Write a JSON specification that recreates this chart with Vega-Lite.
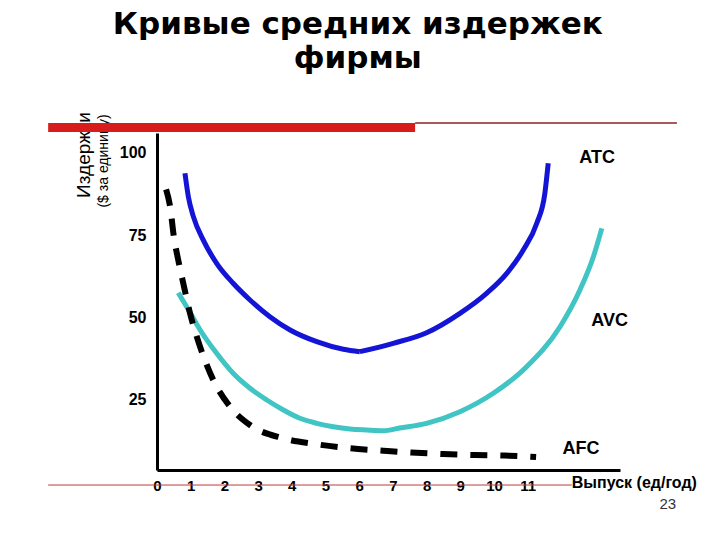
{
  "$schema": "https://vega.github.io/schema/vega-lite/v6.json",
  "width": 463,
  "height": 337,
  "autosize": {"type": "none"},
  "padding": {"left": 157, "top": 133, "right": 100, "bottom": 70},
  "background": "white",
  "config": {"view": {"stroke": null}},
  "datasets": {
    "curves": [
      {"curve": "ATC", "seg": "a", "x": 0.83, "y": 93.85},
      {"curve": "ATC", "seg": "a", "x": 0.93, "y": 86.75},
      {"curve": "ATC", "seg": "a", "x": 1.08, "y": 80.68},
      {"curve": "ATC", "seg": "a", "x": 1.37, "y": 73.6},
      {"curve": "ATC", "seg": "a", "x": 1.77, "y": 66.5},
      {"curve": "ATC", "seg": "a", "x": 2.26, "y": 60.43},
      {"curve": "ATC", "seg": "a", "x": 2.76, "y": 55.36},
      {"curve": "ATC", "seg": "a", "x": 3.35, "y": 50.29},
      {"curve": "ATC", "seg": "a", "x": 3.95, "y": 46.25},
      {"curve": "ATC", "seg": "a", "x": 4.74, "y": 42.7},
      {"curve": "ATC", "seg": "a", "x": 5.53, "y": 40.39},
      {"curve": "ATC", "seg": "a", "x": 6.02, "y": 39.66},
      {"curve": "ATC", "seg": "b", "x": 6.02, "y": 39.66},
      {"curve": "ATC", "seg": "b", "x": 7.01, "y": 42.21},
      {"curve": "ATC", "seg": "b", "x": 8.0, "y": 45.43},
      {"curve": "ATC", "seg": "b", "x": 8.99, "y": 51.32},
      {"curve": "ATC", "seg": "b", "x": 9.78, "y": 57.39},
      {"curve": "ATC", "seg": "b", "x": 10.38, "y": 63.47},
      {"curve": "ATC", "seg": "b", "x": 10.87, "y": 70.54},
      {"curve": "ATC", "seg": "b", "x": 11.27, "y": 78.65},
      {"curve": "ATC", "seg": "b", "x": 11.51, "y": 87.76},
      {"curve": "ATC", "seg": "b", "x": 11.61, "y": 96.87},
      {"curve": "AVC", "seg": "a", "x": 0.63, "y": 57.58},
      {"curve": "AVC", "seg": "a", "x": 0.88, "y": 53.33},
      {"curve": "AVC", "seg": "a", "x": 1.28, "y": 46.25},
      {"curve": "AVC", "seg": "a", "x": 1.77, "y": 39.17},
      {"curve": "AVC", "seg": "a", "x": 2.26, "y": 33.1},
      {"curve": "AVC", "seg": "a", "x": 2.76, "y": 28.55},
      {"curve": "AVC", "seg": "a", "x": 3.26, "y": 25.0},
      {"curve": "AVC", "seg": "a", "x": 3.75, "y": 21.96},
      {"curve": "AVC", "seg": "a", "x": 4.24, "y": 19.44},
      {"curve": "AVC", "seg": "a", "x": 4.74, "y": 17.92},
      {"curve": "AVC", "seg": "a", "x": 5.23, "y": 16.89},
      {"curve": "AVC", "seg": "a", "x": 5.73, "y": 16.19},
      {"curve": "AVC", "seg": "a", "x": 6.22, "y": 15.89},
      {"curve": "AVC", "seg": "a", "x": 6.72, "y": 15.68},
      {"curve": "AVC", "seg": "a", "x": 7.2, "y": 16.5},
      {"curve": "AVC", "seg": "a", "x": 8.0, "y": 17.92},
      {"curve": "AVC", "seg": "a", "x": 8.99, "y": 21.44},
      {"curve": "AVC", "seg": "a", "x": 9.98, "y": 27.03},
      {"curve": "AVC", "seg": "a", "x": 10.97, "y": 35.1},
      {"curve": "AVC", "seg": "a", "x": 11.96, "y": 47.25},
      {"curve": "AVC", "seg": "a", "x": 12.55, "y": 58.4},
      {"curve": "AVC", "seg": "a", "x": 12.95, "y": 68.51},
      {"curve": "AVC", "seg": "a", "x": 13.2, "y": 77.13},
      {"curve": "AFC", "seg": "a", "x": 0.27, "y": 88.98},
      {"curve": "AFC", "seg": "a", "x": 0.39, "y": 83.69},
      {"curve": "AFC", "seg": "a", "x": 0.5, "y": 74.58},
      {"curve": "AFC", "seg": "a", "x": 0.63, "y": 67.51},
      {"curve": "AFC", "seg": "a", "x": 0.78, "y": 60.43},
      {"curve": "AFC", "seg": "a", "x": 0.98, "y": 51.32},
      {"curve": "AFC", "seg": "a", "x": 1.18, "y": 44.21},
      {"curve": "AFC", "seg": "a", "x": 1.42, "y": 37.14},
      {"curve": "AFC", "seg": "a", "x": 1.67, "y": 31.06},
      {"curve": "AFC", "seg": "a", "x": 2.17, "y": 22.96},
      {"curve": "AFC", "seg": "a", "x": 2.76, "y": 17.4},
      {"curve": "AFC", "seg": "a", "x": 3.75, "y": 13.36},
      {"curve": "AFC", "seg": "a", "x": 4.74, "y": 11.54},
      {"curve": "AFC", "seg": "a", "x": 5.73, "y": 10.33},
      {"curve": "AFC", "seg": "a", "x": 6.72, "y": 9.6},
      {"curve": "AFC", "seg": "a", "x": 7.54, "y": 9.05},
      {"curve": "AFC", "seg": "a", "x": 8.49, "y": 8.59},
      {"curve": "AFC", "seg": "a", "x": 9.44, "y": 8.29},
      {"curve": "AFC", "seg": "a", "x": 10.3, "y": 8.14},
      {"curve": "AFC", "seg": "a", "x": 11.25, "y": 7.68}
    ],
    "deco": [
      {"role": "bar", "x": -3.23, "x2": 7.66, "y": 107.74},
      {"role": "top", "x": 7.66, "x2": 15.43, "y": 109.11},
      {"role": "bottom", "x": -3.23, "x2": 12.31, "y": -0.82}
    ],
    "texts": [
      {"role": "title", "x": 5.96, "y": 136.13, "text": "Кривые средних издержек"},
      {"role": "title", "x": 5.96, "y": 125.82, "text": "фирмы"},
      {"role": "ytitle1", "x": -2.17, "y": 99.39, "text": "Издержки"},
      {"role": "ytitle2", "x": -1.57, "y": 97.57, "text": "($ за единицу)"},
      {"role": "curve", "x": 13.06, "y": 96.96, "text": "ATC"},
      {"role": "curve", "x": 13.43, "y": 47.46, "text": "AVC"},
      {"role": "curve", "x": 12.58, "y": 8.59, "text": "AFC"},
      {"role": "xtitle", "x": 12.31, "y": -1.73, "text": "Выпуск (ед/год)"},
      {"role": "page", "x": 15.16, "y": -8.11, "text": "23"}
    ]
  },
  "encoding": {
    "x": {
      "field": "x", "type": "quantitative",
      "scale": {"domain": [0, 13.74], "nice": false, "zero": false},
      "axis": {
        "title": null, "values": [0, 1, 2, 3, 4, 5, 6, 7, 8, 9, 10, 11], "format": "d",
        "grid": false, "ticks": false, "labelFlush": false,
        "domainColor": "black", "domainWidth": 3,
        "labelFont": "Liberation Sans", "labelFontSize": 15, "labelFontWeight": "bold",
        "labelColor": "black", "labelPadding": 8
      }
    },
    "y": {
      "field": "y", "type": "quantitative",
      "scale": {"domain": [3.74, 106.07], "nice": false, "zero": false},
      "axis": {
        "title": null, "values": [25, 50, 75, 100],
        "grid": false, "ticks": false,
        "domainColor": "black", "domainWidth": 3,
        "labelFont": "Liberation Sans", "labelFontSize": 16, "labelFontWeight": "bold",
        "labelColor": "black", "labelPadding": 11
      }
    }
  },
  "layer": [
    {
      "data": {"name": "texts"},
      "transform": [{"filter": "datum.role === 'ytitle1'"}],
      "mark": {"type": "text", "angle": 270, "align": "center", "baseline": "middle", "font": "Liberation Sans", "fontSize": 19, "color": "black"},
      "encoding": {"text": {"field": "text"}}
    },
    {
      "data": {"name": "texts"},
      "transform": [{"filter": "datum.role === 'ytitle2'"}],
      "mark": {"type": "text", "angle": 270, "align": "center", "baseline": "middle", "font": "Liberation Sans", "fontSize": 14, "color": "black"},
      "encoding": {"text": {"field": "text"}}
    },
    {
      "data": {"name": "deco"},
      "transform": [{"filter": "datum.role === 'bar'"}],
      "mark": {"type": "rule", "color": "#d81c1c", "strokeWidth": 9},
      "encoding": {"x2": {"field": "x2"}}
    },
    {
      "data": {"name": "deco"},
      "transform": [{"filter": "datum.role === 'top'"}],
      "mark": {"type": "rule", "color": "#8c2222", "strokeWidth": 1.5},
      "encoding": {"x2": {"field": "x2"}}
    },
    {
      "data": {"name": "deco"},
      "transform": [{"filter": "datum.role === 'bottom'"}],
      "mark": {"type": "rule", "color": "#c23a3a", "strokeWidth": 1},
      "encoding": {"x2": {"field": "x2"}}
    },
    {
      "data": {"name": "curves"},
      "transform": [{"filter": "datum.curve === 'AVC'"}],
      "mark": {"type": "line", "interpolate": "monotone", "color": "#40c4c4", "strokeWidth": 5},
      "encoding": {"detail": {"field": "seg"}}
    },
    {
      "data": {"name": "curves"},
      "transform": [{"filter": "datum.curve === 'AFC'"}],
      "mark": {"type": "line", "interpolate": "monotone", "color": "black", "strokeWidth": 6, "strokeDash": [17, 13]},
      "encoding": {"detail": {"field": "seg"}}
    },
    {
      "data": {"name": "curves"},
      "transform": [{"filter": "datum.curve === 'ATC'"}],
      "mark": {"type": "line", "interpolate": "monotone", "color": "#1414d6", "strokeWidth": 5},
      "encoding": {"detail": {"field": "seg"}}
    },
    {
      "data": {"name": "texts"},
      "transform": [{"filter": "datum.role === 'title'"}],
      "mark": {"type": "text", "align": "center", "baseline": "alphabetic", "font": "DejaVu Sans", "fontSize": 31, "fontWeight": "bold", "color": "black"},
      "encoding": {"text": {"field": "text"}}
    },
    {
      "data": {"name": "texts"},
      "transform": [{"filter": "datum.role === 'curve'"}],
      "mark": {"type": "text", "align": "center", "baseline": "alphabetic", "font": "Liberation Sans", "fontSize": 18, "fontWeight": "bold", "color": "black"},
      "encoding": {"text": {"field": "text"}}
    },
    {
      "data": {"name": "texts"},
      "transform": [{"filter": "datum.role === 'xtitle'"}],
      "mark": {"type": "text", "align": "left", "baseline": "alphabetic", "font": "Liberation Sans", "fontSize": 16, "fontWeight": "bold", "color": "black"},
      "encoding": {"text": {"field": "text"}}
    },
    {
      "data": {"name": "texts"},
      "transform": [{"filter": "datum.role === 'page'"}],
      "mark": {"type": "text", "align": "center", "baseline": "alphabetic", "font": "Liberation Sans", "fontSize": 15, "color": "#333333"},
      "encoding": {"text": {"field": "text"}}
    }
  ]
}
